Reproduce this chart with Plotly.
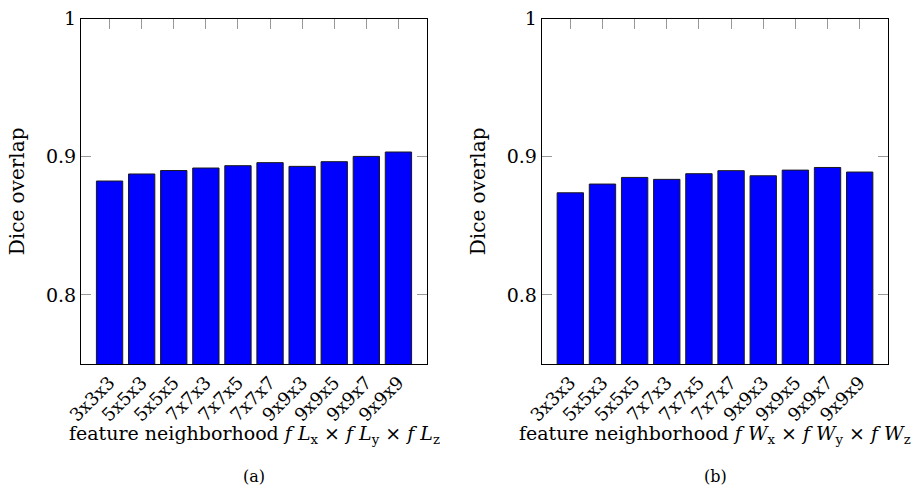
import plotly.graph_objects as go

categories = ["3x3x3", "5x5x3", "5x5x5", "7x7x3", "7x7x5", "7x7x7", "9x9x3", "9x9x5", "9x9x7", "9x9x9"]
dice_L = [0.8824, 0.8875, 0.8900, 0.8918, 0.8935, 0.8957, 0.8930, 0.8964, 0.9002, 0.9034]
dice_W = [0.8739, 0.8802, 0.8850, 0.8836, 0.8877, 0.8899, 0.8862, 0.8903, 0.8922, 0.8889]
y_ticks = [0.8, 0.9, 1.0]
y_tick_text = ["0.8", "0.9", "1"]
y_title = "Dice overlap"
xlabels = [
    "feature neighborhood <i>f L</i><sub>x</sub> × <i>f L</i><sub>y</sub> × <i>f L</i><sub>z</sub>",
    "feature neighborhood <i>f W</i><sub>x</sub> × <i>f W</i><sub>y</sub> × <i>f W</i><sub>z</sub>",
]
captions = ["(a)", "(b)"]

FONT = "DejaVu Serif"
W, H = 918, 485

fig = go.Figure()
for i, vals in enumerate([dice_L, dice_W]):
    fig.add_trace(go.Bar(
        x=list(range(len(categories))), y=vals, base=0,
        xaxis="x" if i == 0 else "x2", yaxis="y" if i == 0 else "y2",
        width=0.82,
        marker=dict(color="#0000ff", line=dict(color="#1a1a1a", width=1)),
        showlegend=False,
    ))

dom_y = [(H - 364) / H, (H - 18.5) / H]
doms_x = [[81 / W, 427 / W], [541.7 / W, 888.3 / W]]
ytitle_x = [17 / W, 478 / W]

common_x = dict(
    range=[-0.89, 9.89], tickmode="array", tickvals=list(range(10)), ticktext=categories,
    tickangle=-45, ticks="inside", ticklen=10, tickcolor="#999999", tickwidth=1,
    showline=True, linecolor="black", linewidth=1, mirror="ticks",
    showgrid=False, zeroline=False, layer="below traces", automargin=False,
    tickfont=dict(family=FONT, size=18, color="black"),
)
common_y = dict(
    range=[0.75, 1.0], tickmode="array", tickvals=y_ticks, ticktext=y_tick_text,
    ticks="inside", ticklen=10, tickcolor="#999999", tickwidth=1,
    showline=True, linecolor="black", linewidth=1, mirror="ticks",
    showgrid=False, zeroline=False, automargin=False,
    tickfont=dict(family=FONT, size=19, color="black"),
)

fig.update_layout(
    width=W, height=H,
    margin=dict(l=0, r=0, t=0, b=0),
    plot_bgcolor="white", paper_bgcolor="white",
    xaxis=dict(domain=doms_x[0], anchor="y", **common_x),
    yaxis=dict(domain=dom_y, anchor="x", **common_y),
    xaxis2=dict(domain=doms_x[1], anchor="y2", **common_x),
    yaxis2=dict(domain=dom_y, anchor="x2", **common_y),
)

for d, lab, cap, tx in zip(doms_x, xlabels, captions, ytitle_x):
    cx = (d[0] + d[1]) / 2
    fig.add_annotation(x=cx, y=(H - 434) / H, xref="paper", yref="paper", text=lab,
                       showarrow=False, xanchor="center", yanchor="middle",
                       font=dict(family=FONT, size=19, color="black"))
    fig.add_annotation(x=cx, y=(H - 476) / H, xref="paper", yref="paper", text=cap,
                       showarrow=False, xanchor="center", yanchor="middle",
                       font=dict(family=FONT, size=16, color="black"))
    fig.add_annotation(x=tx, y=(dom_y[0] + dom_y[1]) / 2, xref="paper", yref="paper",
                       text=y_title, textangle=-90, showarrow=False,
                       xanchor="center", yanchor="middle",
                       font=dict(family=FONT, size=20, color="black"))

fig.write_html("out.html", config={"displayModeBar": False},
               post_script="document.body.style.margin='0px';")
